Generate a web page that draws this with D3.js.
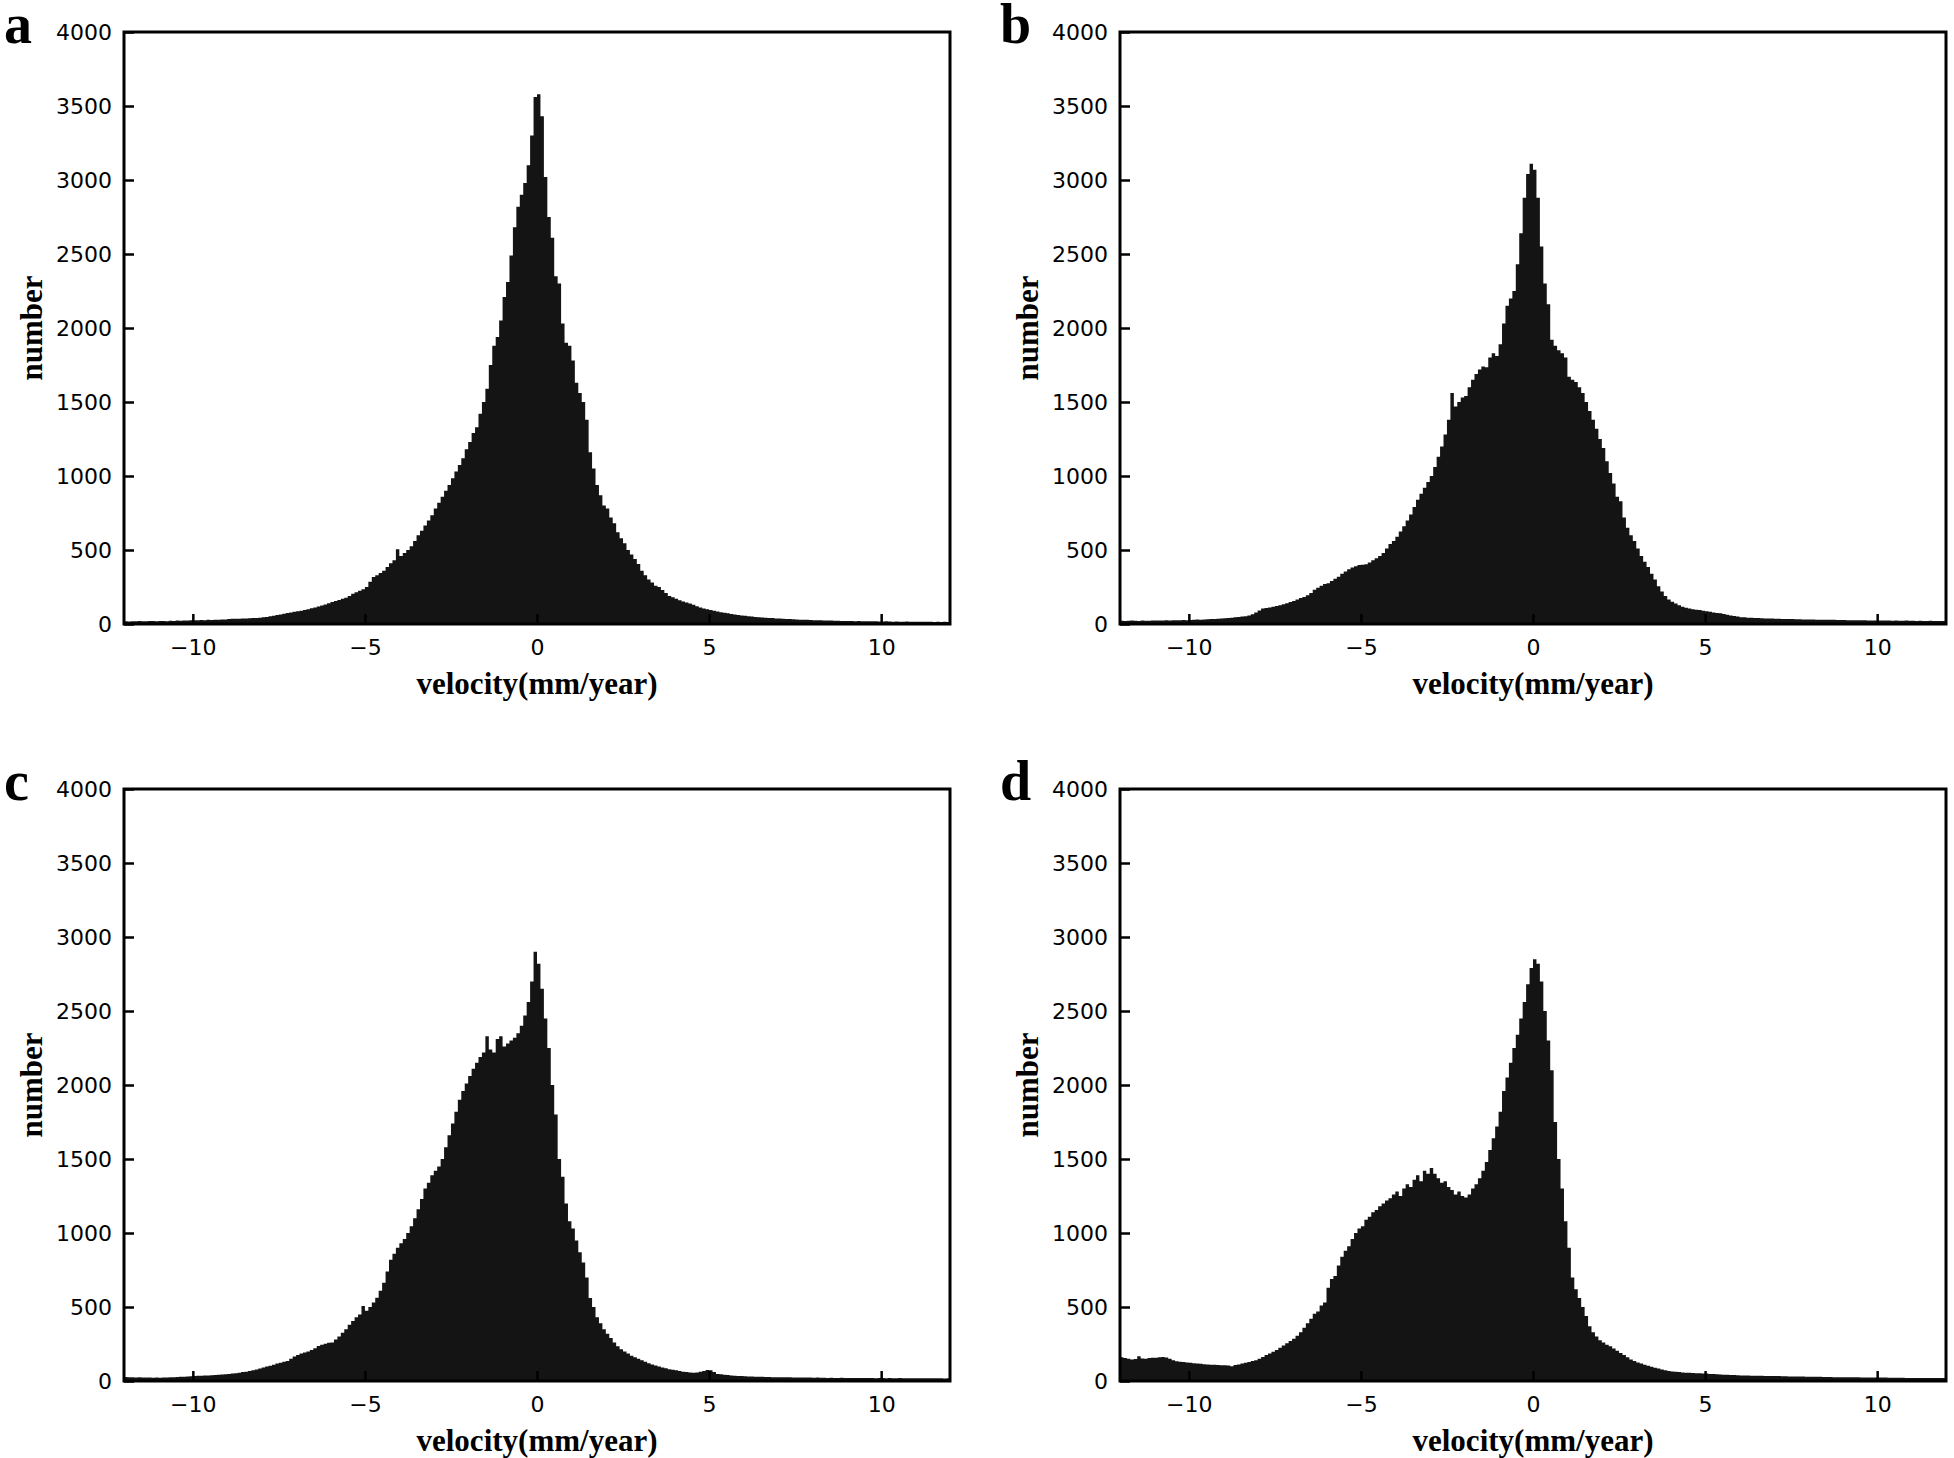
<!DOCTYPE html>
<html><head><meta charset="utf-8">
<script src="https://cdn.jsdelivr.net/npm/d3@7"></script>
<style>body{margin:0;background:#fff;} svg{display:block;}</style>
</head><body><svg id="chart" width="1954" height="1458"></svg>
<script>
// histogram bins: start at -12, width 0.1, 240 bins per panel
const binStart = -12, binWidth = 0.1;

const aValues = [
 18,17,19,18,20,19,18,21,20,19,
 20,21,19,22,21,23,22,24,23,25,
 26,25,27,26,28,27,29,28,30,31,
 34,35,36,35,37,38,39,40,41,42,
 46,48,52,55,60,64,70,74,78,82,
 86,90,95,100,106,112,118,125,132,140,
 148,156,163,170,178,190,205,215,225,235,
 250,285,318,330,345,360,385,410,430,505,
 460,480,500,525,560,600,630,665,700,735,
 780,820,860,900,940,985,1030,1075,1120,1180,
 1230,1290,1330,1420,1500,1590,1750,1880,1940,2050,
 2210,2310,2490,2680,2820,2900,2980,3100,3300,3560,
 3580,3430,3020,2750,2610,2350,2300,2030,1900,1880,
 1780,1630,1560,1500,1380,1160,1050,940,870,800,
 780,720,680,620,580,545,500,470,440,405,
 360,330,300,280,258,250,230,210,190,180,
 170,160,152,146,138,130,120,112,105,100,
 95,90,84,80,76,72,68,64,60,58,
 55,52,50,48,46,44,43,41,40,38,
 37,35,34,33,32,30,29,28,28,27,
 26,25,25,24,23,23,22,22,21,21,
 20,20,19,20,19,18,19,18,18,17,
 17,18,17,16,17,16,16,17,15,16,
 16,15,16,15,15,14,15,14,15,14
];

const bValues = [
 22,21,22,23,22,21,23,22,22,23,
 23,24,23,25,24,25,26,25,27,26,
 27,28,30,29,31,32,33,34,35,37,
 39,41,43,45,48,50,53,58,66,78,
 92,104,108,112,117,122,127,133,140,148,
 156,165,175,182,195,210,231,245,258,270,
 275,290,305,320,340,355,370,382,390,398,
 400,404,415,430,445,460,480,510,540,560,
 590,625,660,700,740,790,840,880,920,960,
 1000,1060,1130,1200,1280,1380,1560,1470,1500,1530,
 1540,1600,1650,1690,1720,1740,1735,1800,1830,1810,
 1890,2030,2150,2200,2250,2430,2640,2880,3040,3110,
 3070,2880,2550,2300,2160,1920,1880,1850,1830,1800,
 1670,1650,1635,1600,1560,1500,1440,1380,1320,1250,
 1190,1100,1020,950,860,830,720,650,600,560,
 510,460,420,385,340,300,255,220,190,165,
 150,138,126,117,110,105,100,97,94,90,
 86,82,78,75,72,68,62,58,54,50,
 46,45,43,42,41,40,39,38,38,37,
 36,35,34,34,33,33,32,32,31,31,
 30,30,29,29,29,28,28,28,27,27,
 27,26,26,26,25,25,25,24,24,24,
 23,23,24,23,22,23,22,22,23,22,
 22,21,22,21,21,22,21,20,21,20
];

const cValues = [
 27,25,26,24,25,23,24,23,22,23,
 22,23,24,25,26,27,28,29,30,32,
 34,35,36,37,38,39,40,42,44,46,
 48,50,53,56,60,63,67,72,78,85,
 92,98,103,110,118,124,130,135,150,165,
 175,185,192,200,210,222,236,245,252,258,
 260,280,300,326,350,380,405,430,450,506,
 475,500,530,562,610,664,740,820,860,900,
 930,960,1000,1046,1100,1160,1230,1300,1340,1390,
 1420,1450,1500,1580,1660,1740,1820,1900,1960,2010,
 2060,2110,2150,2190,2220,2330,2240,2220,2310,2330,
 2260,2280,2300,2320,2350,2400,2470,2560,2700,2900,
 2820,2650,2450,2250,2000,1800,1500,1380,1200,1080,
 1030,950,870,800,700,560,500,430,390,350,
 320,290,260,235,215,200,185,170,160,150,
 140,130,120,112,105,98,92,86,80,76,
 72,68,63,60,57,56,58,62,68,74,
 72,60,48,45,42,40,38,36,34,33,
 32,31,30,29,28,28,27,27,26,26,
 26,25,25,25,24,24,24,23,23,23,
 22,23,22,22,21,22,21,21,22,21,
 21,20,21,20,20,21,20,20,19,20,
 20,19,20,19,19,20,19,19,18,19,
 19,18,19,18,18,19,18,18,17,18
];

const dValues = [
 160,155,150,146,148,168,152,150,155,157,
 157,160,163,158,150,140,134,130,128,125,
 123,120,118,116,114,112,110,109,108,107,
 106,105,100,108,112,118,123,128,135,140,
 150,162,175,185,198,210,225,240,255,270,
 285,305,330,360,390,420,455,470,510,530,
 630,690,710,780,840,880,910,960,1000,1030,
 1045,1090,1110,1140,1155,1180,1200,1220,1235,1260,
 1280,1250,1300,1330,1310,1360,1390,1350,1420,1400,
 1440,1400,1370,1340,1350,1310,1290,1260,1280,1250,
 1240,1260,1300,1330,1370,1420,1480,1560,1640,1720,
 1820,1960,2050,2150,2250,2340,2450,2560,2680,2790,
 2850,2820,2700,2500,2300,2100,1750,1500,1300,1080,
 900,700,620,560,500,440,370,330,300,275,
 260,245,235,220,205,190,175,160,145,135,
 125,118,110,103,96,90,84,78,73,68,
 65,62,60,58,56,55,54,53,52,50,
 50,48,47,46,44,43,42,41,40,39,
 38,38,37,36,36,35,35,34,34,34,
 33,33,32,32,31,31,30,30,30,29,
 29,28,28,28,27,27,27,26,26,26,
 26,25,25,25,25,24,24,24,24,23,
 23,23,23,22,22,22,22,22,21,21,
 21,21,21,20,20,20,20,20,20,20
];

const panelLetters = ["a", "b", "c", "d"];
const xTicks = [-10, -5, 0, 5, 10];
const yTicks = [0, 500, 1000, 1500, 2000, 2500, 3000, 3500, 4000];
const xDomain = [-12, 12];
const yDomain = [0, 4000];
const xTitle = "velocity(mm/year)";
const yTitle = "number";

const series = [aValues, bValues, cValues, dValues];

const svg = d3.select("#chart");
const W = 826, H = 592;
const origins = [
  {x: 124, y: 32},
  {x: 1120, y: 32},
  {x: 124, y: 789},
  {x: 1120, y: 789}
];

const x = d3.scaleLinear().domain(xDomain).range([0, W]);
const y = d3.scaleLinear().domain(yDomain).range([H, 0]);
const fmtX = d => (d < 0 ? "\u2212" + Math.abs(d) : String(d));

series.forEach((vals, i) => {
  const o = origins[i];
  const g = svg.append("g").attr("transform", `translate(${o.x},${o.y})`);

  // step histogram
  const pts = vals.map((v, k) => ({e: binStart + k * binWidth, v}));
  pts.push({e: binStart + vals.length * binWidth, v: vals[vals.length - 1]});
  const area = d3.area()
    .curve(d3.curveStepAfter)
    .x(d => x(d.e))
    .y0(y(0))
    .y1(d => y(d.v));
  g.append("path").datum(pts).attr("d", area).attr("fill", "#141414");

  // axes with inward ticks
  const ax = g.append("g").attr("transform", `translate(0,${H})`)
    .call(d3.axisBottom(x).tickValues(xTicks).tickFormat(fmtX).tickSize(-10).tickPadding(15));
  const ay = g.append("g")
    .call(d3.axisLeft(y).tickValues(yTicks).tickFormat(d3.format("d")).tickSize(-10).tickPadding(12));
  [ax, ay].forEach(a => {
    a.select(".domain").remove();
    a.selectAll(".tick line").attr("stroke", "#000").attr("stroke-width", 2.5);
    a.selectAll(".tick text").attr("fill", "#000")
      .style("font-family", "'DejaVu Sans', sans-serif").style("font-size", "22px");
  });

  // frame
  g.append("rect").attr("x", 0).attr("y", 0).attr("width", W).attr("height", H)
    .attr("fill", "none").attr("stroke", "#000").attr("stroke-width", 3);

  // axis titles
  g.append("text").attr("x", W / 2).attr("y", H + 70)
    .attr("text-anchor", "middle")
    .style("font-family", "'Liberation Serif', 'Times New Roman', serif")
    .style("font-weight", "bold").style("font-size", "31px")
    .text(xTitle);
  g.append("text")
    .attr("transform", `translate(${-93},${H / 2}) rotate(-90)`)
    .attr("text-anchor", "middle").attr("dy", "0.35em")
    .style("font-family", "'Liberation Serif', 'Times New Roman', serif")
    .style("font-weight", "bold").style("font-size", "31px")
    .text(yTitle);

  // panel letter
  g.append("text").attr("x", -120).attr("y", 11)
    .style("font-family", "'Liberation Serif', 'Times New Roman', serif")
    .style("font-weight", "bold").style("font-size", "56px")
    .text(panelLetters[i]);
});
</script>
</body></html>
